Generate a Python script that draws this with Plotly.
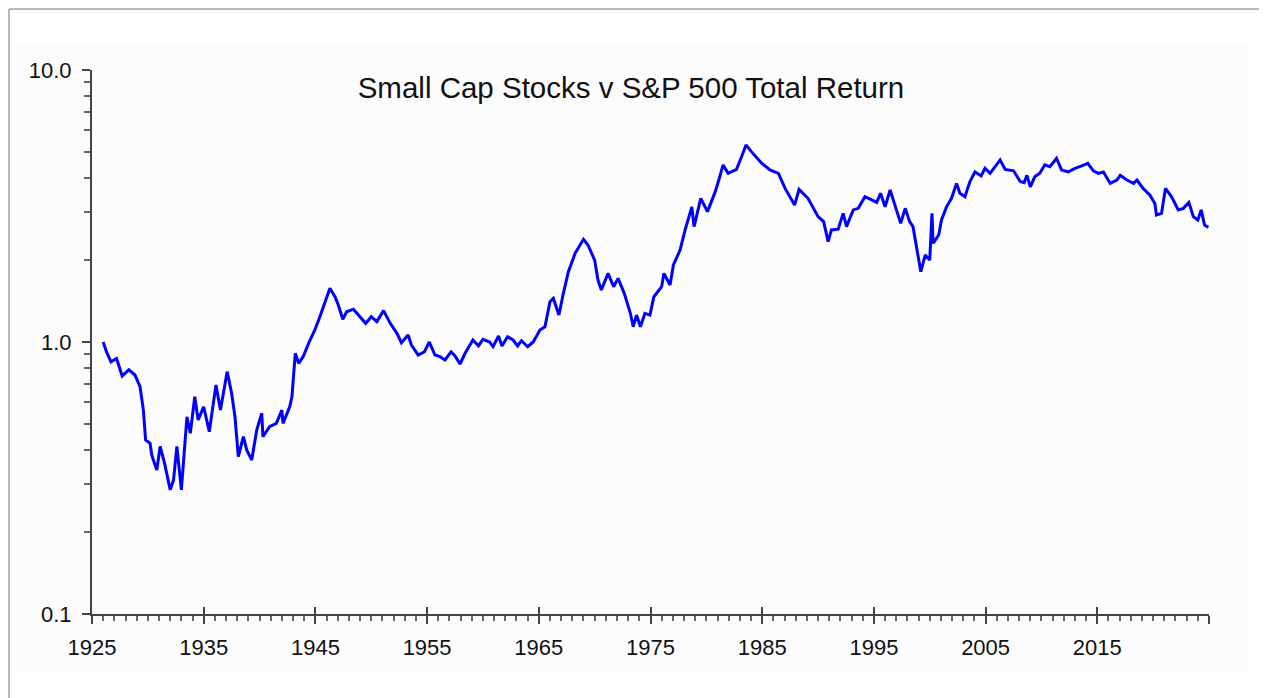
import plotly.graph_objects as go

# Small cap stocks relative to S&P 500 total return (ratio, log scale)
years = [
    1926.0, 1926.3, 1926.7, 1927.2, 1927.7, 1928.3, 1928.85, 1929.3, 1929.6, 1929.8,
    1930.2, 1930.35, 1930.8, 1931.1, 1931.5, 1932.0, 1932.3, 1932.6, 1933.0, 1933.5,
    1933.8, 1934.2, 1934.5, 1935.0, 1935.5, 1936.1, 1936.5, 1937.1, 1937.5, 1937.8,
    1938.1, 1938.55, 1938.85, 1939.3, 1939.75, 1940.2, 1940.3, 1940.9, 1941.5, 1942.0,
    1942.1, 1942.7, 1942.9, 1943.2, 1943.5, 1943.9, 1944.4, 1944.95, 1945.4, 1945.9,
    1946.3, 1946.75, 1947.05, 1947.45, 1947.8, 1948.4, 1949.0, 1949.5, 1950.0, 1950.5,
    1951.1, 1951.7, 1952.3, 1952.7, 1953.3, 1953.6, 1954.2, 1954.75, 1955.2, 1955.7,
    1956.15, 1956.6, 1957.15, 1957.5, 1957.95, 1958.4, 1959.1, 1959.6, 1960.0, 1960.6,
    1960.9, 1961.4, 1961.7, 1962.2, 1962.7, 1963.1, 1963.45, 1964.0, 1964.5, 1965.1,
    1965.55, 1966.0, 1966.3, 1966.8, 1967.2, 1967.65, 1968.25, 1969.0, 1969.4, 1970.0,
    1970.3, 1970.6, 1971.2, 1971.7, 1972.1, 1972.65, 1973.2, 1973.45, 1973.75, 1974.1,
    1974.5, 1974.95, 1975.3, 1976.0, 1976.2, 1976.75, 1977.05, 1977.65, 1978.1, 1978.7,
    1978.9, 1979.5, 1980.1, 1980.8, 1981.2, 1981.5, 1981.95, 1982.7, 1983.15, 1983.55,
    1984.05, 1984.95, 1985.7, 1986.45, 1987.05, 1987.9, 1988.3, 1989.1, 1990.0, 1990.5,
    1990.9, 1991.2, 1991.8, 1992.25, 1992.55, 1993.15, 1993.6, 1994.2, 1994.8, 1995.25,
    1995.6, 1996.0, 1996.45, 1997.05, 1997.4, 1997.8, 1998.2, 1998.5, 1998.85, 1999.2,
    1999.6, 2000.0, 2000.2, 2000.3, 2000.8, 2001.05, 2001.5, 2001.95, 2002.4, 2002.7,
    2003.15, 2003.6, 2004.05, 2004.6, 2004.95, 2005.4, 2005.85, 2006.3, 2006.75, 2007.5,
    2008.1, 2008.45, 2008.7, 2009.0, 2009.4, 2009.85, 2010.3, 2010.75, 2011.35, 2011.8,
    2012.4, 2013.0, 2013.6, 2014.15, 2014.65, 2015.1, 2015.55, 2016.15, 2016.75, 2017.05,
    2017.65, 2018.25, 2018.55, 2019.1, 2019.7, 2020.15, 2020.3, 2020.75, 2021.1, 2021.65,
    2022.25, 2022.7, 2023.2, 2023.6, 2024.0, 2024.3, 2024.6, 2024.95,
]
ratio = [
    1.0, 0.92, 0.846, 0.87, 0.75, 0.79, 0.756, 0.685, 0.562, 0.436,
    0.424, 0.384, 0.338, 0.413, 0.358, 0.286, 0.311, 0.413, 0.286, 0.531,
    0.462, 0.629, 0.517, 0.578, 0.468, 0.695, 0.562, 0.778, 0.648, 0.531,
    0.379, 0.449, 0.401, 0.368, 0.475, 0.547, 0.449, 0.488, 0.502, 0.562,
    0.502, 0.578, 0.629, 0.909, 0.835, 0.883, 0.99, 1.107, 1.239, 1.427,
    1.575, 1.467, 1.368, 1.212, 1.292, 1.32, 1.239, 1.171, 1.239, 1.188,
    1.304, 1.171, 1.076, 0.994, 1.061, 0.975, 0.896, 0.92, 1.0, 0.896,
    0.883, 0.859, 0.92, 0.888, 0.83, 0.909, 1.017, 0.967, 1.023, 1.0,
    0.961, 1.052, 0.967, 1.046, 1.017, 0.967, 1.011, 0.961, 1.0, 1.107,
    1.138, 1.407, 1.447, 1.256, 1.51, 1.813, 2.118, 2.385, 2.274, 2.0,
    1.69, 1.553, 1.788, 1.597, 1.714, 1.51, 1.275, 1.138, 1.256, 1.138,
    1.275, 1.256, 1.467, 1.597, 1.788, 1.62, 1.919, 2.179, 2.582, 3.14,
    2.655, 3.375, 3.014, 3.57, 4.05, 4.478, 4.17, 4.31, 4.8, 5.3,
    5.0, 4.54, 4.29, 4.17, 3.67, 3.19, 3.64, 3.375, 2.89, 2.77,
    2.338, 2.582, 2.6, 2.97, 2.655, 3.06, 3.1, 3.42, 3.33, 3.26,
    3.52, 3.14, 3.62, 3.06, 2.73, 3.1, 2.77, 2.655, 2.179, 1.813,
    2.089, 2.0, 2.97, 2.305, 2.474, 2.81, 3.14, 3.375, 3.83, 3.52,
    3.42, 3.89, 4.22, 4.08, 4.35, 4.17, 4.41, 4.67, 4.31, 4.26,
    3.89, 3.85, 4.1, 3.72, 4.05, 4.17, 4.48, 4.41, 4.73, 4.29,
    4.22, 4.35, 4.44, 4.54, 4.26, 4.17, 4.22, 3.83, 3.94, 4.1,
    3.94, 3.83, 3.94, 3.67, 3.47, 3.23, 2.93, 2.97, 3.67, 3.42,
    3.06, 3.1, 3.26, 2.89, 2.81, 3.06, 2.69, 2.64,
]

x_major = [1925, 1935, 1945, 1955, 1965, 1975, 1985, 1995, 2005, 2015, 2025]
x_labels = ["1925", "1935", "1945", "1955", "1965", "1975", "1985", "1995", "2005", "2015", ""]
x_minor = [yr for yr in range(1925, 2026) if yr % 10 != 5]
y_major = [0.1, 1, 10]
y_labels = ["0.1", "1.0", "10.0"]
y_minor = [0.2, 0.3, 0.4, 0.5, 0.6, 0.7, 0.8, 0.9, 2, 3, 4, 5, 6, 7, 8, 9]

font_family = "Liberation Sans, Arial, sans-serif"
axis_color = "#444444"
bg_inner = "#FCFCFD"

fig = go.Figure()
fig.add_trace(go.Scatter(
    x=years, y=ratio, mode="lines",
    line=dict(color="#0000FF", width=3),
    showlegend=False, hoverinfo="x+y",
))
# empty trace so the overlay axes (inner half of major ticks) get drawn
fig.add_trace(go.Scatter(x=[], y=[], xaxis="x2", yaxis="y2", showlegend=False))

# the page body adds an 8px offset, margins are trimmed to compensate
fig.update_layout(
    width=1267, height=698,
    margin=dict(l=84, r=66, t=62, b=92),
    paper_bgcolor="white",
    plot_bgcolor=bg_inner,
    font=dict(family=font_family, size=22, color="#111111"),
    title=dict(
        text="Small Cap Stocks v S&P 500 Total Return",
        font=dict(family=font_family, size=29.5, color="#111111"),
        xref="container", x=0.4917, xanchor="center",
        yref="container", y=0.8854, yanchor="middle",
    ),
    xaxis=dict(
        range=[1925, 2025], showgrid=False, zeroline=False,
        showline=True, linecolor=axis_color, linewidth=2,
        tickmode="array", tickvals=x_major, ticktext=x_labels,
        ticks="outside", ticklen=8, tickwidth=2, tickcolor=axis_color,
        ticklabelstandoff=5,
        minor=dict(tickmode="array", tickvals=x_minor, ticks="outside",
                   ticklen=5, tickwidth=2, tickcolor="#666666", showgrid=False),
    ),
    yaxis=dict(
        type="log", range=[-1, 1], showgrid=False, zeroline=False,
        showline=True, linecolor=axis_color, linewidth=2,
        tickmode="array", tickvals=y_major, ticktext=y_labels,
        ticks="outside", ticklen=8, tickwidth=2, tickcolor=axis_color,
        ticklabelstandoff=6,
        minor=dict(tickmode="array", tickvals=y_minor, ticks="outside",
                   ticklen=6, tickwidth=2, tickcolor="#666666", showgrid=False),
    ),
    xaxis2=dict(
        range=[1925, 2025], overlaying="x", anchor="y2", side="bottom",
        showgrid=False, zeroline=False, showline=False, showticklabels=False,
        tickmode="array", tickvals=x_major,
        ticks="inside", ticklen=7, tickwidth=2, tickcolor=axis_color,
    ),
    yaxis2=dict(
        type="log", range=[-1, 1], overlaying="y", anchor="x2", side="left",
        showgrid=False, zeroline=False, showline=False, showticklabels=False,
        tickmode="array", tickvals=[10],
        ticks="inside", ticklen=7, tickwidth=2, tickcolor=axis_color,
    ),
    shapes=[
        # inner panel behind the chart
        dict(type="rect", xref="paper", yref="paper", layer="below",
             x0=-0.0671, x1=1.034, y0=-0.1085, y1=1.048,
             fillcolor=bg_inner, line=dict(width=0)),
        # frame lines at the top and left edges
        dict(type="line", xref="paper", yref="paper",
             x0=-0.0743, x1=1.07, y0=1.112, y1=1.112,
             line=dict(color="#A0A0A0", width=1.5)),
        dict(type="line", xref="paper", yref="paper",
             x0=-0.0743, x1=-0.0743, y0=-0.18, y1=1.112,
             line=dict(color="#A0A0A0", width=1.5)),
    ],
)

fig.write_html("out.html")
